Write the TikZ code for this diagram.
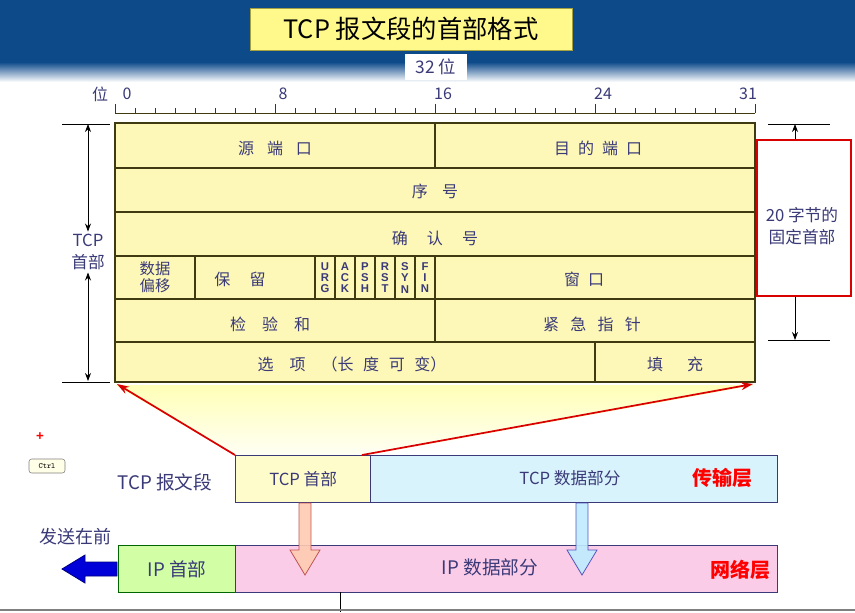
\documentclass[tikz,border=0pt]{standalone}
\usepackage{fontspec}
\setmainfont{Liberation Sans}
\newfontfamily\cjk{Noto Sans CJK SC}
\usetikzlibrary{arrows.meta}
\definecolor{txt}{HTML}{3A3A78}
\definecolor{cell}{HTML}{FDF8B8}
\definecolor{edge}{HTML}{3F3A10}
\definecolor{band}{HTML}{0D4A8A}
\tikzset{
 lbl/.style={font=\cjk\fontsize{12}{14}\selectfont,text=txt,inner sep=0pt},
 flag/.style={font=\bfseries\fontsize{8.5}{8.3}\selectfont,text=txt,align=center,inner sep=0pt},
 redln/.style={draw=red!85!black,line width=1.3pt},
 dim/.style={black,line width=0.6pt,{Stealth[length=6pt]}-{Stealth[length=6pt]}},
}
\begin{document}
\begin{tikzpicture}[x=0.75pt,y=-0.75pt]
\useasboundingbox (0,0) rectangle (855,612);
\fill[white] (0,0) rectangle (855,612);
\fill[band] (0,0) rectangle (855,62);
\shade[top color=band,bottom color=white] (0,62) rectangle (855,82);
\node[fill=yellow!45,draw=yellow!60!black,minimum width=322*0.75pt,minimum height=42*0.75pt,font=\cjk\fontsize{19}{22}\selectfont] (title) at (411,29) {TCP 报文段的首部格式};
\node[fill=white,minimum width=62*0.75pt,minimum height=26*0.75pt,font=\cjk\fontsize{13}{15}\selectfont,text=txt,inner sep=0pt] (w32) at (436,67) {32 位};
% ruler
\node[lbl] (wei) at (100,94) {位};
\foreach \b/\x in {0/127,8/283,16/443,24/603,31/748}{\node[lbl] (r\b) at (\x,94) {\b};}
\draw[edge,line width=0.6pt] (115,113) -- (755,113);
\foreach \i in {0,...,32}{\draw[edge,line width=0.5pt] (115+\i*20,113) -- (115+\i*20,108);}
\foreach \i in {0,8,16,24,32}{\draw[edge,line width=0.6pt] (115+\i*20,113) -- (115+\i*20,104);}
% fan
\shade[top color=yellow!35,bottom color=yellow!5,opacity=0.8] (115,385) -- (755,385) -- (370,455) -- (235,455) -- cycle;
% table
\fill[cell] (115,123) rectangle (755,382);
\begin{scope}[edge,line width=0.8pt]
\draw (115,123) rectangle (755,382);
\foreach \y in {168,212,256,299,342}{\draw (115,\y) -- (755,\y);}
\draw (435,123) -- (435,168);
\draw (435,256) -- (435,342);
\foreach \x in {195,315,335,355,375,395,415}{\draw (\x,256) -- (\x,299);}
\draw (595,342) -- (595,382);
\end{scope}
\draw[edge,line width=2pt] (115,382) -- (755,382) (755,123) -- (755,382);
\node[lbl] (src) at (275,148) {源\hspace{0.8em}端\hspace{0.8em}口};
\node[lbl] (dst) at (598,148) {目\hspace{0.5em}的\hspace{0.5em}端\hspace{0.5em}口};
\node[lbl] (seq) at (435,191) {序\hspace{0.9em}号};
\node[lbl] (ack) at (435,238) {确\hspace{1.2em}认\hspace{1.2em}号};
\node[lbl,align=center,font=\cjk\fontsize{11.5}{13}\selectfont] (off) at (155,277) {数据\\偏移};
\node[lbl] (res) at (240,279) {保\hspace{1.2em}留};
\foreach \n/\t [count=\i from 0] in {u/U\\R\\G,a/A\\C\\K,p/P\\S\\H,r/R\\S\\T,s/S\\Y\\N,f/F\\I\\N}{\node[flag] (\n) at (325+\i*20,278) {\t};}
\node[lbl] (win) at (584,279) {窗\hspace{0.5em}口};
\node[lbl] (chk) at (270,324) {检\hspace{1em}验\hspace{1em}和};
\node[lbl] (urgp) at (592,324) {紧\hspace{0.7em}急\hspace{0.7em}指\hspace{0.7em}针};
\node[lbl] (opt) at (352,364) {选\hspace{1em}项\hspace{1em}（长\hspace{0.6em}度\hspace{0.6em}可\hspace{0.6em}变）};
\node[lbl] (pad) at (675,364) {填\hspace{1.5em}充};
% left dimension
\node[lbl,fill=white,align=center,inner sep=2pt,font=\cjk\fontsize{12.5}{16}\selectfont] (tcph) at (88,252) {TCP\\首部};
\coordinate (lt) at (88,124); \coordinate (lb) at (88,381);
\draw[black,line width=0.6pt] (62,124) -- (110,124) (62,382) -- (110,382);
\draw[dim] (lt) -- (tcph.north); \draw[dim] (tcph.south) -- (lb);
% right dimension
\draw[black,line width=0.6pt] (768,124) -- (830,124) (768,340) -- (830,340);
\node[draw=red!85!black,line width=2pt,minimum width=94*0.75pt,minimum height=156*0.75pt,fill=white] (rb) at (804,218) {};
\node[lbl,align=center,font=\cjk\fontsize{12.5}{17}\selectfont] (rbt) at (802,226) {20 字节的\\固定首部};
\coordinate (rt) at (795,124); \coordinate (rbb) at (795,340);
\draw[dim,-{Stealth[length=6pt]}] (rb.north -| rt) -- (rt);
\draw[dim,-{Stealth[length=6pt]}] (rb.south -| rt) -- (rbb);
% bottom
\node[text=red,font=\bfseries\fontsize{10}{10}\selectfont] (plus) at (40,437) {+};
\node[draw=gray,rounded corners=2pt,fill=yellow!10,font=\ttfamily\fontsize{6}{6}\selectfont,minimum width=36*0.75pt,minimum height=14*0.75pt,inner sep=0pt] (ctrl) at (47,466) {Ctrl};
\node[draw=txt,line width=1pt,fill=yellow!20,minimum width=135*0.75pt,minimum height=47*0.75pt,anchor=north west,inner sep=0pt] (th) at (235,455) {};
\node[draw=txt,line width=1pt,fill=cyan!15,minimum width=407*0.75pt,minimum height=47*0.75pt,anchor=north west,inner sep=0pt] (td) at (370,455) {};
\fill[yellow!20] (236,456) rectangle (370,501);
\node[font=\cjk\fontsize{12.5}{14}\selectfont,text=txt] at (th.center) {TCP 首部};
\node[font=\cjk\fontsize{12.5}{14}\selectfont,text=txt] at (570,478) {TCP 数据部分};
\node[font=\cjk\bfseries\fontsize{15}{16}\selectfont,text=red] (l4) at (722,478) {传输层};
\node[font=\cjk\fontsize{14}{16}\selectfont,text=txt] (tseg) at (165,482) {TCP 报文段};
\draw[redln,-{Stealth[length=9pt,width=6pt]}] (235,455) -- (117,384);
\draw[redln,-{Stealth[length=9pt,width=6pt]}] (362,455) -- (753,384);
\node[draw=green!40!black,line width=1pt,fill=green!50!yellow!35,minimum width=117*0.75pt,minimum height=47*0.75pt,anchor=north west,inner sep=0pt] (ih) at (118,545) {};
\node[draw=txt,line width=1pt,fill=magenta!20,minimum width=542*0.75pt,minimum height=47*0.75pt,anchor=north west,inner sep=0pt] (id) at (235,545) {};
\node[font=\cjk\fontsize{14}{16}\selectfont,text=txt] at (ih.center) {IP 首部};
\node[font=\cjk\fontsize{14}{16}\selectfont,text=txt] at (490,567) {IP 数据部分};
\node[font=\cjk\bfseries\fontsize{15}{16}\selectfont,text=red] (l3) at (740,570) {网络层};
\node[font=\cjk\fontsize{13.5}{16}\selectfont,text=txt] (first) at (75,537) {发送在前};
% block arrows
\filldraw[fill=blue!85!black,draw=blue!50!black,line width=0.6pt] (117,562) -- (85,562) -- (85,555) -- (62,569) -- (85,583) -- (85,576) -- (117,576) -- cycle;
\filldraw[fill=red!35!orange!30,draw=red!45!gray,line width=0.6pt,opacity=0.9] (299,503) -- (311,503) -- (311,550) -- (320,550) -- (305,575) -- (290,550) -- (299,550) -- cycle;
\filldraw[fill=blue!30!cyan!25,draw=blue!45!gray,line width=0.6pt,opacity=0.9] (576,503) -- (588,503) -- (588,550) -- (597,550) -- (582,575) -- (567,550) -- (576,550) -- cycle;
\draw[black,line width=0.6pt] (340,592) -- (340,612);
\draw[gray,line width=1pt] (0,610) -- (855,610);
\end{tikzpicture}
\end{document}
